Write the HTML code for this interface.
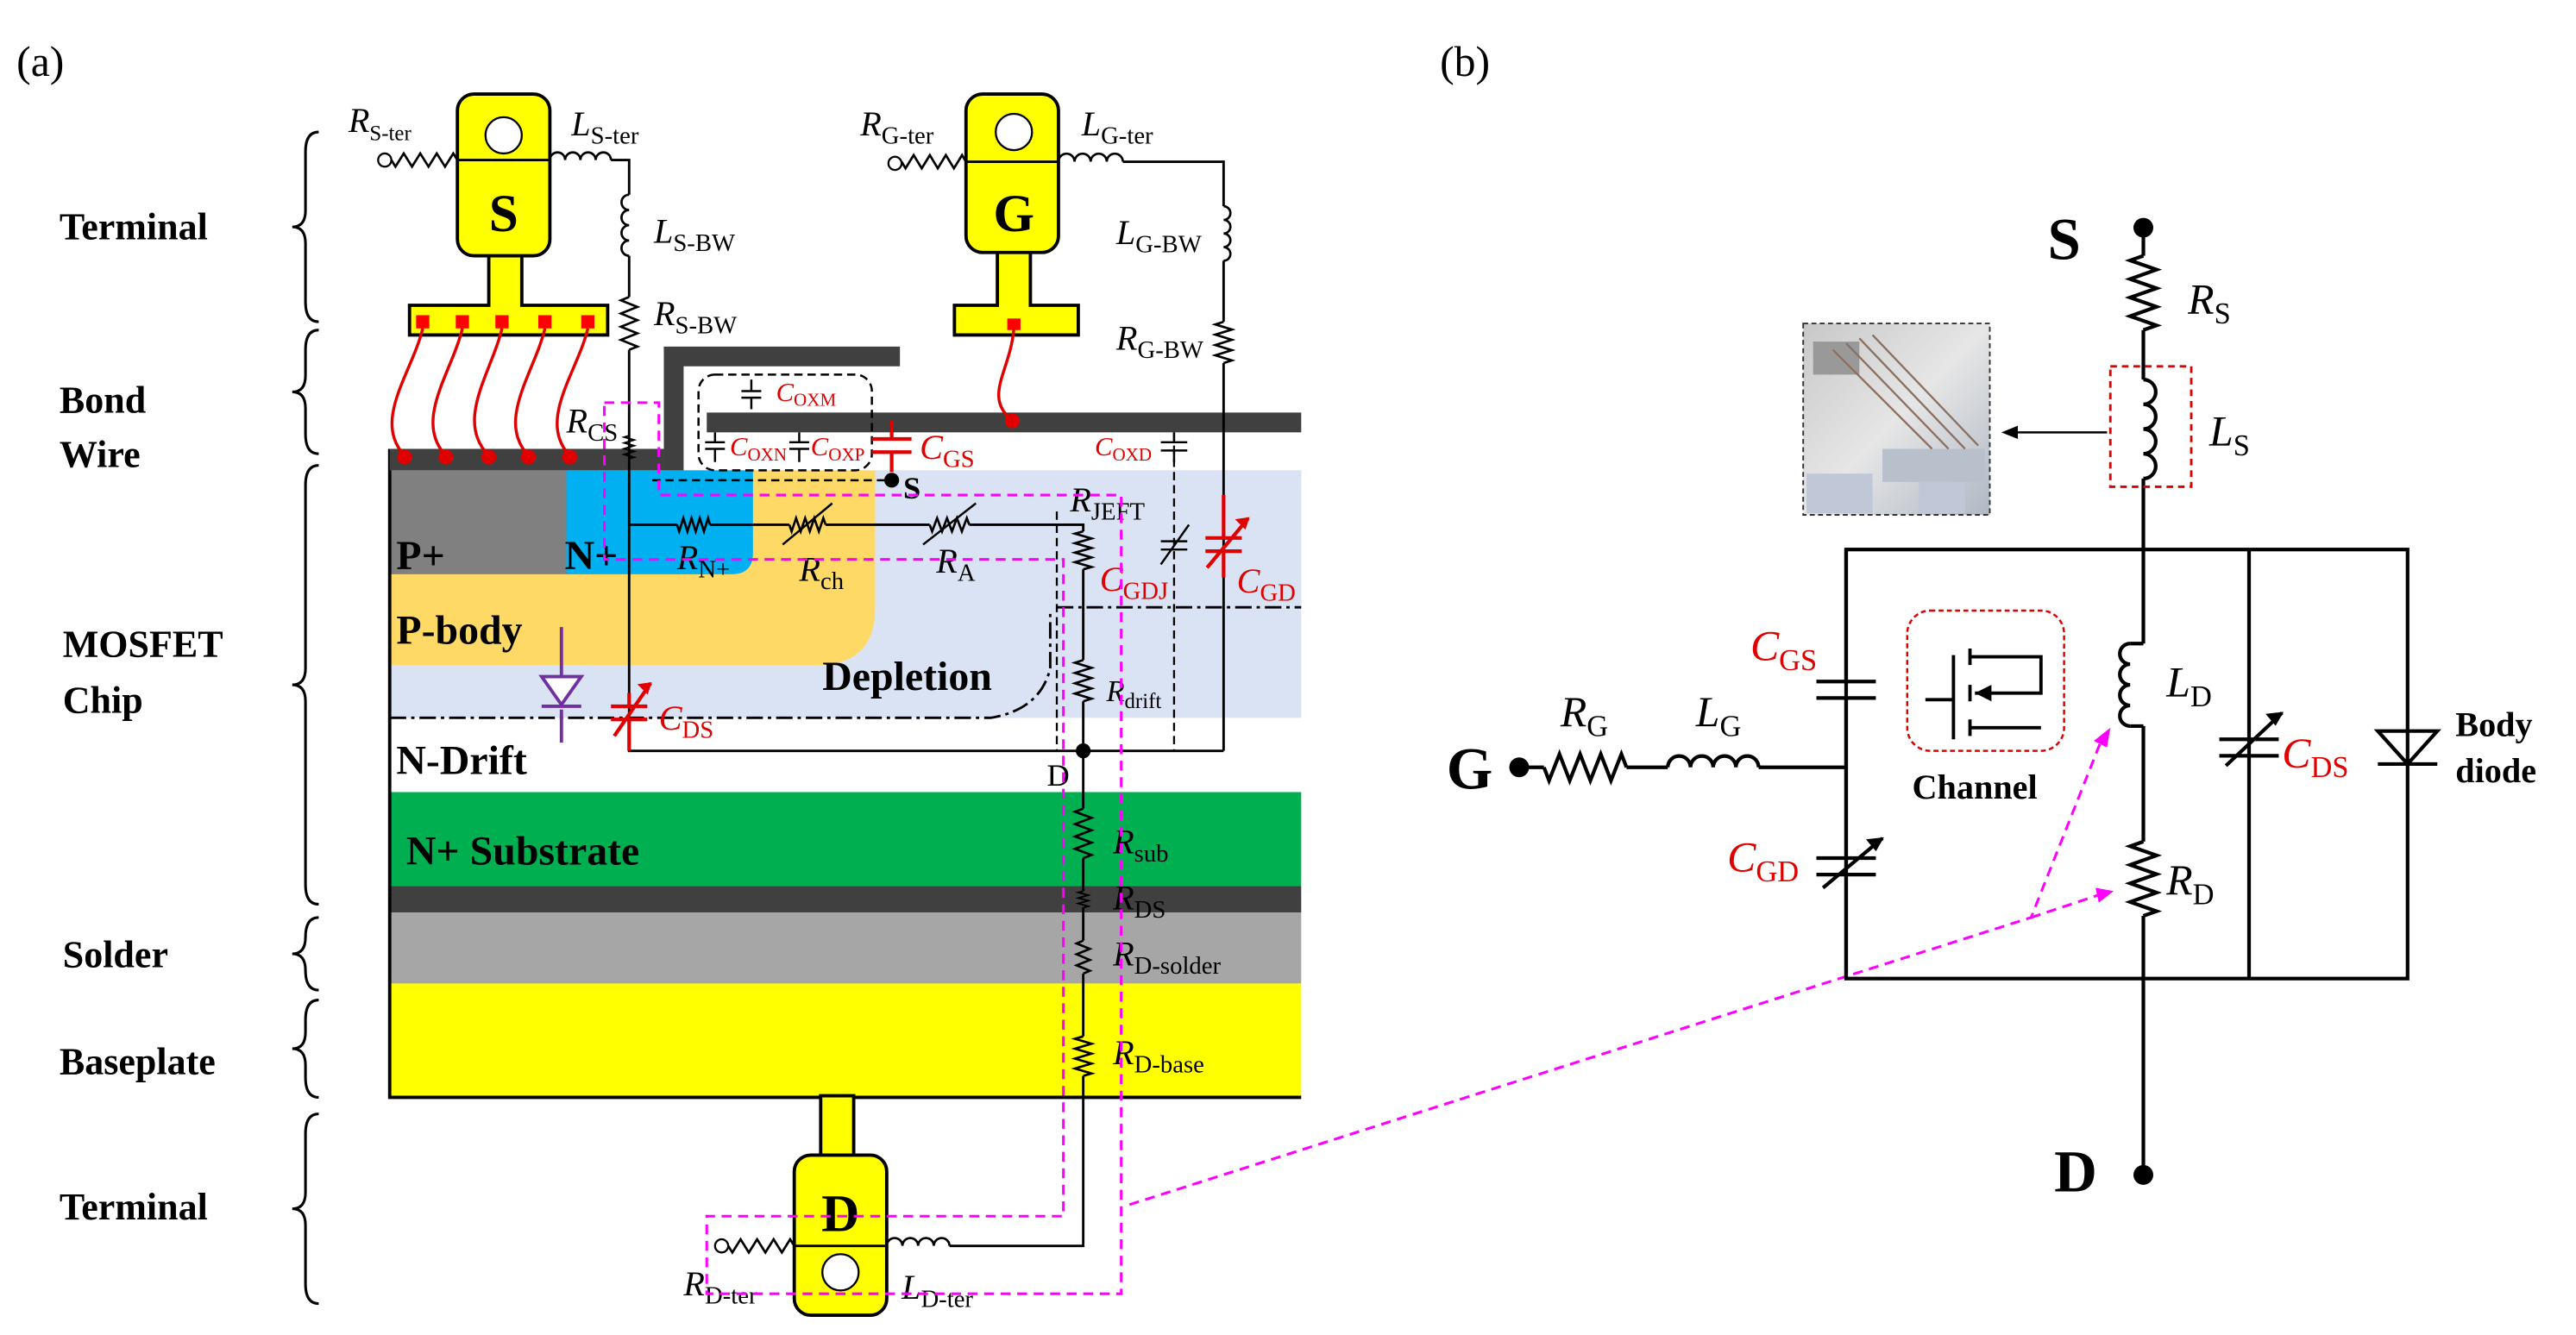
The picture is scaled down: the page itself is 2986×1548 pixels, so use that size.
<!DOCTYPE html>
<html><head><meta charset="utf-8"><style>
html,body{margin:0;padding:0;background:#fff;}
svg{display:block;}
text{font-family:"Liberation Serif",serif;}
.b{font-weight:bold;}
.l{font-size:21px;}
.s{font-size:13px;}
.r{fill:#e00000;}
</style></head><body>
<svg id="sv" width="2986" height="1548" viewBox="0 0 1560 809" preserveAspectRatio="none" xmlns="http://www.w3.org/2000/svg">
<rect width="1560" height="809" fill="#fff"/>
<text x="10" y="46" font-size="26">(a)</text>
<text x="872" y="46" font-size="26">(b)</text>

<g class="b" font-size="23" font-weight="bold">
<text x="36" y="145">Terminal</text>
<text x="36" y="250">Bond</text>
<text x="36" y="283">Wire</text>
<text x="38" y="398">MOSFET</text>
<text x="38" y="432">Chip</text>
<text x="38" y="586">Solder</text>
<text x="36" y="651">Baseplate</text>
<text x="36" y="739">Terminal</text>
</g>
<g fill="none" stroke="#000" stroke-width="1.6" id="braces"></g>

<!-- chip layers -->
<rect x="236" y="285" width="552" height="150" fill="#dae3f3"/>
<rect x="640" y="285" width="148" height="83" fill="#dae3f3"/>
<path d="M236 285 H640 V405 Q640 435 610 435 H236 Z" fill="#dae3f3"/>
<path d="M236 285 H530 V368 Q530 403 495 403 H236 Z" fill="#ffd966"/>
<rect x="236" y="285" width="108" height="63" fill="#808080"/>
<path d="M343 285 H456 V335 Q456 348 443 348 H343 Z" fill="#00b0f0"/>
<rect x="236" y="480" width="552" height="57" fill="#00b050"/>
<rect x="236" y="537" width="552" height="16" fill="#404040"/>
<rect x="236" y="553" width="552" height="43" fill="#a6a6a6"/>
<rect x="236" y="596" width="552" height="69" fill="#ffff00"/>
<path d="M236 272 V665 H788" fill="none" stroke="#000" stroke-width="2"/>
<rect x="236" y="272" width="166" height="13" fill="#404040"/>
<path d="M402 285 V210 H545 V222 H414 V285 Z" fill="#404040"/>
<rect x="428" y="250" width="360" height="12" fill="#404040"/>

<g font-weight="bold" font-size="25">
<text x="240" y="345">P+</text>
<text x="342" y="345">N+</text>
<text x="240" y="390">P-body</text>
<text x="498" y="418">Depletion</text>
<text x="240" y="469">N-Drift</text>
<text x="246" y="524">N+  Substrate</text>
</g>

<!-- dash-dot lines -->
<g fill="none" stroke="#000" stroke-width="1.5" stroke-dasharray="10,3,2,3">
<path d="M236 435 H600 Q630 430 636 405 V370"/>
<path d="M640 368 H788"/>
</g>
<path d="M640 310 V455" stroke="#000" stroke-width="1.2" stroke-dasharray="5,3" fill="none"/>
<path d="M711 262 V455" stroke="#000" stroke-width="1.2" stroke-dasharray="5,3" fill="none"/>
<path d="M395 291 H540" stroke="#000" stroke-width="1.3" stroke-dasharray="5,3" fill="none"/>
<rect x="423" y="227" width="105" height="58" rx="10" fill="none" stroke="#000" stroke-width="1.3" stroke-dasharray="5,3"/>

<!-- terminals -->
<g fill="#ffff00" stroke="#000" stroke-width="2">
<path d="M296 150 V185 H248 V203 H368 V185 H316 V150 Z"/>
<rect x="277" y="57" width="56" height="98" rx="10"/>
<path d="M604 150 V185 H578 V203 H653 V185 H624 V150 Z"/>
<rect x="585" y="57" width="56" height="96" rx="10"/>
<path d="M497 664 V705 H517 V664 Z"/>
<rect x="481" y="700" width="56" height="97" rx="10"/>
</g>
<g fill="#fff" stroke="#000" stroke-width="1.2">
<circle cx="305" cy="82" r="11"/><circle cx="614" cy="80" r="11"/><circle cx="509" cy="771" r="11"/>
</g>
<path d="M277 97 H333 M585 98 H641 M481 755 H537" stroke="#000" stroke-width="1.5"/>
<g font-weight="bold" font-size="32" text-anchor="middle">
<text x="305" y="140">S</text><text x="614" y="140">G</text><text x="509" y="746">D</text>
</g>
<g fill="#ff0000">
<rect x="252" y="191" width="8" height="8"/><rect x="276" y="191" width="8" height="8"/><rect x="300" y="191" width="8" height="8"/><rect x="326" y="191" width="8" height="8"/><rect x="352" y="191" width="8" height="8"/><rect x="610" y="193" width="8" height="7"/>
</g>
<!-- bond wires -->
<g fill="none" stroke="#e00000" stroke-width="1.8">
<path d="M256 199 C250 225 225 255 245 276"/>
<path d="M280 199 C274 225 250 255 270 276"/>
<path d="M304 199 C298 225 275 255 296 276"/>
<path d="M330 199 C324 225 300 255 320 276"/>
<path d="M356 199 C350 225 325 255 345 276"/>
<path d="M614 199 C612 225 595 240 613 255"/>
</g>
<g fill="#e00000">
<circle cx="245" cy="277" r="4.5"/><circle cx="270" cy="277" r="4.5"/><circle cx="296" cy="277" r="4.5"/><circle cx="320" cy="277" r="4.5"/><circle cx="345" cy="277" r="4.5"/><circle cx="613" cy="255" r="4.5"/>
</g>

<!-- circuit wires -->
<g id="ckt" fill="none" stroke="#000" stroke-width="1.5">
<path d="M370 97 H381 V118 M381 155 V180 M381 212 V455 H741 M680 98 H741 V125 M741 158 V195 M741 220 V455"/>
<path d="M381 318 H410 M430 318 H478 M500 318 H563 M587 318 H656 V322 M656 345 V400 M656 425 V490 M656 520 V540 M656 550 V570 M656 590 V628 M656 652 V755 H575"/>
<path d="M246 755 H0" stroke="none"/>
</g>
<g fill="#000"><circle cx="540" cy="291" r="4.5"/><circle cx="656" cy="455" r="4.5"/></g>
<g fill="#fff" stroke="#000" stroke-width="1.2"><circle cx="233" cy="97" r="4"/><circle cx="542" cy="99" r="4"/><circle cx="437" cy="755" r="4"/></g>

<!-- caps -->
<g stroke="#e00000" stroke-width="2.2" fill="none">
<path d="M540 255 V266 M528 266 H552 M528 274 H552 M540 274 V286"/>
<path d="M381 420 V428 M370 428 H392 M370 436 H392 M381 436 V455 M372 446 L394 414"/>
<path d="M741 300 V326 M730 326 H752 M730 334 H752 M741 334 V350 M731 344 L756 314"/>
</g>
<path d="M394 414 l-7 1 l5 5 z M756 314 l-7 1 l5 5 z" fill="#e00000" stroke="#e00000"/>
<g stroke="#000" stroke-width="1.3" fill="none">
<path d="M703 268 H719 M703 273 H719 M711 262 V268 M711 273 V280"/>
<path d="M703 328 H719 M703 333 H719 M703 342 L720 318"/>
<path d="M449 237 H461 M449 241 H461 M455 230 V237 M455 241 V248"/>
<path d="M427 268 H439 M427 272 H439 M433 262 V268 M433 272 V280"/>
<path d="M478 268 H490 M478 272 H490 M484 262 V268 M484 272 V280"/>
</g>
<!-- diode purple -->
<g stroke="#7030a0" stroke-width="2" fill="#fff">
<path d="M340 380 V410 M340 430 V450"/>
<path d="M328 410 H352 L340 427 Z"/>
<path d="M328 428 H352"/>
</g>

<!-- labels left -->
<g class="l">
<text x="211" y="80"><tspan font-style="italic">R</tspan><tspan class="s" font-size="15" dy="5">S-ter</tspan></text>
<text x="346" y="82"><tspan font-style="italic">L</tspan><tspan font-size="15" dy="5">S-ter</tspan></text>
<text x="396" y="147"><tspan font-style="italic">L</tspan><tspan font-size="15" dy="5">S-BW</tspan></text>
<text x="396" y="197"><tspan font-style="italic">R</tspan><tspan font-size="15" dy="5">S-BW</tspan></text>
<text x="521" y="82"><tspan font-style="italic">R</tspan><tspan font-size="15" dy="5">G-ter</tspan></text>
<text x="655" y="82"><tspan font-style="italic">L</tspan><tspan font-size="15" dy="5">G-ter</tspan></text>
<text x="676" y="148"><tspan font-style="italic">L</tspan><tspan font-size="15" dy="5">G-BW</tspan></text>
<text x="676" y="212"><tspan font-style="italic">R</tspan><tspan font-size="15" dy="5">G-BW</tspan></text>
<text x="343" y="262"><tspan font-style="italic">R</tspan><tspan font-size="15" dy="5">CS</tspan></text>
<text x="410" y="345"><tspan font-style="italic">R</tspan><tspan font-size="15" dy="5">N+</tspan></text>
<text x="484" y="352"><tspan font-style="italic">R</tspan><tspan font-size="15" dy="5">ch</tspan></text>
<text x="567" y="347"><tspan font-style="italic">R</tspan><tspan font-size="15" dy="5">A</tspan></text>
<text x="648" y="310"><tspan font-style="italic">R</tspan><tspan font-size="15" dy="5">JEFT</tspan></text>
<text x="670" y="425" font-size="18"><tspan font-style="italic">R</tspan><tspan font-size="13" dy="4">drift</tspan></text>
<text x="674" y="517"><tspan font-style="italic">R</tspan><tspan font-size="15" dy="5">sub</tspan></text>
<text x="674" y="551"><tspan font-style="italic">R</tspan><tspan font-size="15" dy="5">DS</tspan></text>
<text x="674" y="585"><tspan font-style="italic">R</tspan><tspan font-size="15" dy="5">D-solder</tspan></text>
<text x="674" y="645"><tspan font-style="italic">R</tspan><tspan font-size="15" dy="5">D-base</tspan></text>
<text x="414" y="785"><tspan font-style="italic">R</tspan><tspan font-size="15" dy="5">D-ter</tspan></text>
<text x="546" y="787"><tspan font-style="italic">L</tspan><tspan font-size="15" dy="5">D-ter</tspan></text>
<text x="547" y="302" font-weight="bold" font-size="19">S</text>
<text x="634" y="476" font-size="19">D</text>
</g>
<g class="l r">
<text x="399" y="442"><tspan font-style="italic">C</tspan><tspan font-size="15" dy="5">DS</tspan></text>
<text x="557" y="278"><tspan font-style="italic">C</tspan><tspan font-size="15" dy="5">GS</tspan></text>
<text x="749" y="359"><tspan font-style="italic">C</tspan><tspan font-size="15" dy="5">GD</tspan></text>
<text x="666" y="358"><tspan font-style="italic">C</tspan><tspan font-size="15" dy="5">GDJ</tspan></text>
<text x="663" y="276" font-size="16"><tspan font-style="italic">C</tspan><tspan font-size="11" dy="3">OXD</tspan></text>
<text x="470" y="243" font-size="16"><tspan font-style="italic">C</tspan><tspan font-size="11" dy="3">OXM</tspan></text>
<text x="442" y="276" font-size="16"><tspan font-style="italic">C</tspan><tspan font-size="11" dy="3">OXN</tspan></text>
<text x="491" y="276" font-size="16"><tspan font-style="italic">C</tspan><tspan font-size="11" dy="3">OXP</tspan></text>
</g>

<!-- magenta -->
<g fill="none" stroke="#ff00ff" stroke-width="1.6" stroke-dasharray="6,4">
<path d="M366 244 H399 V300 H679 V784 H428 V737 H644 V339 H366 Z"/>
<path d="M684 730 L1230 556 L1272 450"/>
<path d="M1230 556 L1272 542"/>
</g>
<path d="M1278 441 l-10 8 l8 4 z M1280 540 l-11 -2 l2 9 z" fill="#ff00ff"/>

<!-- right panel -->
<g fill="none" stroke="#000" stroke-width="2.2">
<path d="M1298 138 V155 M1298 200 V230 M1298 290 V390 M1298 440 V510 M1298 555 V712"/>
<rect x="1118" y="333" width="340" height="260"/>
<path d="M1362 333 V593"/>
<path d="M920 465 H935 M985 465 H1010 M1065 465 H1118"/>
<path d="M1100 413 H1136 M1100 423 H1136 M1118 333 V413 M1118 423 V593"/>
<path d="M1100 520 H1136 M1100 530 H1136 M1104 538 L1140 508"/>
<path d="M1344 448 H1380 M1344 458 H1380 M1348 464 L1382 432"/>
<path d="M1440 443 H1476 L1458 463 Z M1440 463 H1476"/>
</g>
<path d="M1140 508 l-9 1 l5 6 z M1382 432 l-9 1 l5 6 z" fill="#000" stroke="#000"/>
<g fill="#000"><circle cx="1298" cy="138" r="6"/><circle cx="1298" cy="712" r="6"/><circle cx="920" cy="465" r="6"/></g>
<rect x="1278" y="222" width="49" height="73" fill="none" stroke="#e00000" stroke-width="1.5" stroke-dasharray="4,3"/>
<path d="M1276 262 H1218" stroke="#000" stroke-width="1.3"/><path d="M1212 262 l10 -4 v8 z" fill="#000"/>
<defs><linearGradient id="ph" x1="0" y1="0" x2="1" y2="1"><stop offset="0" stop-color="#c8c8c8"/><stop offset="0.5" stop-color="#e6e6e6"/><stop offset="1" stop-color="#b0b8c4"/></linearGradient></defs>
<rect x="1092" y="196" width="113" height="116" fill="url(#ph)" stroke="#333" stroke-dasharray="3,2"/>
<rect x="1098" y="207" width="28" height="20" fill="#999"/>
<rect x="1094" y="287" width="40" height="24" fill="#c0c8d8"/>
<rect x="1140" y="272" width="62" height="20" fill="#b8c0cc"/>
<rect x="1162" y="292" width="28" height="19" fill="#c0c8d8"/>
<g stroke="#8a7060" stroke-width="1.2"><path d="M1110 212 L1170 272 M1118 208 L1180 272 M1126 205 L1190 272 M1134 203 L1198 270"/></g>
<rect x="1155" y="370" width="95" height="85" rx="14" fill="none" stroke="#e00000" stroke-width="1.3" stroke-dasharray="3,2"/>
<g stroke="#000" stroke-width="2" fill="none">
<path d="M1166 424 H1183 M1183 397 V448 M1193 393 V403 M1193 415 V425 M1193 436 V446 M1193 398 H1236 V420 H1196 M1193 441 H1236"/>
</g>
<path d="M1196 420 l10 -5 v10 z" fill="#000"/>
<text x="1158" y="484" font-size="21" font-weight="bold">Channel</text>
<g font-size="36" font-weight="bold">
<text x="1240" y="157">S</text><text x="876" y="478">G</text><text x="1244" y="722">D</text>
</g>
<g font-size="26">
<text x="1325" y="190"><tspan font-style="italic">R</tspan><tspan font-size="18" dy="6">S</tspan></text>
<text x="1338" y="270"><tspan font-style="italic">L</tspan><tspan font-size="18" dy="6">S</tspan></text>
<text x="1312" y="422"><tspan font-style="italic">L</tspan><tspan font-size="18" dy="6">D</tspan></text>
<text x="1312" y="542"><tspan font-style="italic">R</tspan><tspan font-size="18" dy="6">D</tspan></text>
<text x="945" y="440"><tspan font-style="italic">R</tspan><tspan font-size="18" dy="6">G</tspan></text>
<text x="1027" y="440"><tspan font-style="italic">L</tspan><tspan font-size="18" dy="6">G</tspan></text>
</g>
<g font-size="26" fill="#e00000">
<text x="1060" y="400"><tspan font-style="italic">C</tspan><tspan font-size="18" dy="6">GS</tspan></text>
<text x="1046" y="528"><tspan font-style="italic">C</tspan><tspan font-size="18" dy="6">GD</tspan></text>
<text x="1382" y="465"><tspan font-style="italic">C</tspan><tspan font-size="18" dy="6">DS</tspan></text>
</g>
<text x="1487" y="446" font-size="21" font-weight="bold">Body</text>
<text x="1487" y="474" font-size="21" font-weight="bold">diode</text>
</svg>
<script>
(function(){
var NS="http://www.w3.org/2000/svg",sv=document.getElementById("sv");
function P(d,c,w){var p=document.createElementNS(NS,"path");p.setAttribute("d",d);p.setAttribute("fill","none");p.setAttribute("stroke",c||"#000");p.setAttribute("stroke-width",w||1.4);sv.appendChild(p);}
function res(x1,y1,x2,y2,n,a,w){var dx=x2-x1,dy=y2-y1,L=Math.hypot(dx,dy),ux=dx/L,uy=dy/L,nx=-uy,ny=ux,d="M"+x1+" "+y1;
for(var i=0;i<2*n;i++){var t=(i+0.5)/(2*n)*L,s=i%2?-1:1;d+=" L"+(x1+ux*t+nx*a*s).toFixed(1)+" "+(y1+uy*t+ny*a*s).toFixed(1);}d+=" L"+x2+" "+y2;P(d,"#000",w);}
function coil(x1,y1,x2,y2,n,w,sw){var dx=(x2-x1)/n,dy=(y2-y1)/n,r=Math.hypot(dx,dy)/2,d="M"+x1+" "+y1;
for(var i=1;i<=n;i++){d+=" A"+r+" "+r+" 0 0 "+sw+" "+(x1+dx*i)+" "+(y1+dy*i);}P(d,"#000",w);}
function brace(x,y1,y2){var m=(y1+y2)/2;P("M"+(x+8)+" "+y1+" Q"+x+" "+y1+" "+x+" "+(y1+12)+" L"+x+" "+(m-10)+" Q"+x+" "+m+" "+(x-8)+" "+m+" Q"+x+" "+m+" "+x+" "+(m+10)+" L"+x+" "+(y2-12)+" Q"+x+" "+y2+" "+(x+8)+" "+y2,"#000",1.6);}
brace(185,80,195);brace(185,200,275);brace(185,282,548);brace(185,556,600);brace(185,606,665);brace(185,675,790);
res(237,97,277,97,4,4);res(546,98,585,98,4,4);res(441,755,481,755,4,4);
coil(333,97,370,97,4,1.4,1);coil(641,98,680,98,4,1.4,1);coil(537,755,575,755,4,1.4,1);
coil(381,118,381,155,4,1.4,0);coil(741,125,741,158,4,1.4,1);
res(381,180,381,212,4,5);res(741,195,741,220,4,5);res(381,264,381,278,4,3,1);
res(410,318,430,318,4,4);res(478,318,500,318,4,4);res(563,318,587,318,4,4);
res(656,322,656,345,4,5);res(656,400,656,425,4,5);res(656,490,656,520,4,5);res(656,540,656,550,3,3,1);res(656,570,656,590,3,4);res(656,628,656,652,4,5);
P("M474 330 L504 305 M559 330 L591 305","#000",1.3);
res(1298,155,1298,200,4,8,2.2);res(1298,510,1298,555,4,8,2.2);res(935,465,985,465,4,8,2.2);
coil(1298,230,1298,290,4,2.2,1);coil(1290,390,1290,440,4,2.2,0);P("M1290 390 H1298 M1290 440 H1298","#000",2.2);coil(1010,465,1065,465,4,2.2,1);
})();
</script>
</body></html>
